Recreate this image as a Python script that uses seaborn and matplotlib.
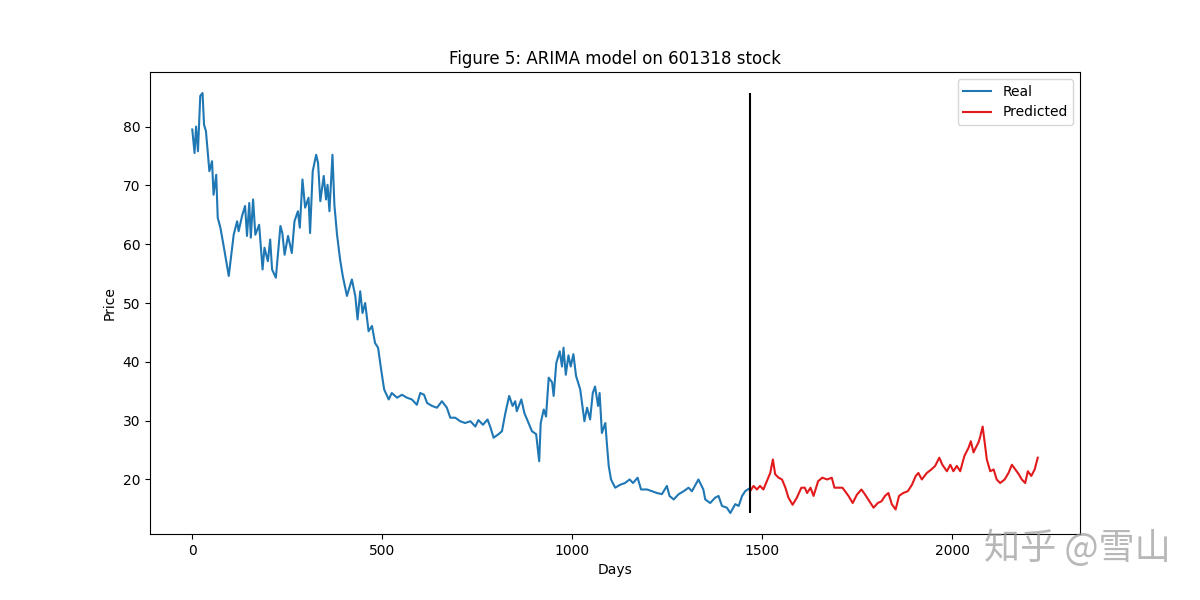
import matplotlib
matplotlib.use("Agg")
import matplotlib.pyplot as plt
import seaborn as sns
import numpy as np

# Real (training) series: day index, price
real_days = [0, 6, 10, 15, 21, 27, 31, 36, 45, 52, 56, 63, 67, 74, 82, 96, 109, 118, 122, 131,
             139, 144, 150, 154, 160, 166, 176, 185, 190, 199, 205, 210, 220, 232, 237, 243, 252,
             262, 269, 278, 283, 290, 297, 306, 310, 317, 326, 331, 337, 346, 352, 356, 361, 369,
             374, 381, 389, 396, 407, 420, 429, 435, 442, 448, 455, 464, 473, 481, 489, 497, 505,
             517, 525, 539, 552, 565, 578, 591, 600, 610, 618, 631, 644, 657, 670, 679, 692, 705,
             718, 732, 745, 753, 765, 777, 785, 793, 806, 815, 824, 834, 843, 850, 854, 866, 874,
             885, 894, 905, 913, 917, 925, 931, 938, 947, 951, 958, 967, 973, 977, 983, 990, 996,
             1003, 1010, 1021, 1032, 1039, 1047, 1054, 1060, 1068, 1072, 1078, 1087, 1091, 1096,
             1102, 1113, 1126, 1139, 1151, 1160, 1172, 1181, 1197, 1210, 1223, 1236, 1249, 1256,
             1267, 1280, 1293, 1306, 1315, 1332, 1345, 1350, 1363, 1376, 1385, 1394, 1407, 1416,
             1429, 1438, 1447, 1455, 1464, 1468]
real_price = [79.5, 75.5, 80.0, 75.8, 85.2, 85.7, 80.3, 79.2, 72.4, 74.1, 68.4, 71.8, 64.5, 62.8,
              59.9, 54.6, 61.6, 63.9, 62.2, 64.8, 66.5, 61.4, 67.0, 61.1, 67.6, 61.6, 63.3, 55.7,
              59.4, 57.1, 60.8, 55.7, 54.3, 63.1, 61.9, 58.2, 61.4, 58.5, 63.9, 65.6, 62.8, 71.0,
              66.2, 67.9, 61.9, 72.4, 75.2, 73.8, 67.3, 71.6, 67.6, 70.1, 65.6, 75.2, 66.7, 61.6,
              57.4, 54.6, 51.2, 54.0, 51.2, 47.2, 52.0, 48.3, 50.0, 45.2, 46.1, 43.2, 42.4, 38.7,
              35.3, 33.6, 34.7, 33.9, 34.4, 33.9, 33.6, 32.7, 34.7, 34.4, 33.0, 32.5, 32.2, 33.3,
              32.2, 30.5, 30.5, 29.9, 29.6, 29.9, 29.0, 30.1, 29.3, 30.2, 28.8, 27.1, 27.7, 28.2,
              31.3, 34.2, 32.5, 33.3, 31.6, 33.6, 31.3, 29.6, 28.2, 27.7, 23.1, 29.6, 31.9, 30.7,
              37.3, 36.5, 34.2, 39.8, 41.8, 39.2, 42.4, 37.8, 41.1, 39.2, 41.3, 37.6, 35.3, 29.9,
              32.2, 30.2, 34.7, 35.8, 32.5, 34.7, 27.9, 29.6, 26.2, 22.3, 20.0, 18.6, 19.1, 19.4,
              20.0, 19.4, 20.3, 18.3, 18.3, 18.0, 17.7, 17.5, 18.9, 17.2, 16.6, 17.5, 18.0, 18.6,
              18.0, 20.0, 18.3, 16.6, 16.0, 16.9, 17.2, 15.5, 15.2, 14.3, 15.8, 15.5, 17.2, 18.0,
              18.4, 18.2]

# Predicted (test) series
pred_days = [1468, 1477, 1486, 1494, 1503, 1512, 1521, 1528, 1534, 1543, 1552, 1561, 1569, 1580,
             1591, 1603, 1612, 1618, 1627, 1635, 1647, 1658, 1671, 1683, 1690, 1701, 1711, 1718,
             1727, 1738, 1749, 1761, 1771, 1782, 1793, 1804, 1814, 1823, 1832, 1841, 1851, 1860,
             1871, 1883, 1894, 1904, 1911, 1920, 1933, 1945, 1955, 1966, 1974, 1986, 1995, 2003,
             2012, 2021, 2032, 2043, 2049, 2056, 2062, 2069, 2073, 2080, 2085, 2091, 2100, 2109,
             2117, 2126, 2138, 2148, 2157, 2166, 2175, 2183, 2192, 2199, 2208, 2217, 2225]
pred_price = [18.0, 18.9, 18.3, 18.9, 18.3, 19.7, 21.1, 23.4, 20.9, 20.3, 20.0, 18.6, 16.9, 15.7,
              16.9, 18.6, 18.6, 17.7, 18.6, 17.2, 19.7, 20.3, 20.0, 20.3, 18.6, 18.6, 18.6, 18.0,
              17.2, 16.0, 17.4, 18.3, 17.4, 16.3, 15.2, 16.0, 16.3, 17.2, 17.7, 15.8, 14.9, 17.2,
              17.7, 18.0, 19.1, 20.6, 21.1, 20.0, 21.1, 21.7, 22.3, 23.7, 22.5, 21.4, 22.5, 21.4,
              22.3, 21.4, 24.0, 25.4, 26.5, 24.6, 25.4, 26.3, 27.1, 29.0, 26.5, 23.4, 21.4, 21.7,
              20.0, 19.4, 20.0, 21.1, 22.5, 21.7, 20.9, 20.0, 19.4, 21.4, 20.6, 21.7, 23.7]

split_day = 1468

fig, ax = plt.subplots(figsize=(12, 6), dpi=100)
sns.lineplot(x=real_days, y=real_price, ax=ax, color="#1f77b4", label="Real", linewidth=1.5)
sns.lineplot(x=pred_days, y=pred_price, ax=ax, color="#e31a1c", label="Predicted", linewidth=1.5)
ax.vlines(split_day, min(real_price), max(real_price), colors="black", linewidth=1.5)

ax.set_title("Figure 5: ARIMA model on 601318 stock")
ax.set_xlabel("Days")
ax.set_ylabel("Price")
ax.set_xticks([0, 500, 1000, 1500, 2000])
ax.set_yticks([20, 30, 40, 50, 60, 70, 80])
ax.legend(loc="upper right")

fig.text(0.82, 0.087, "知乎 @雪山", fontsize=26, color="#9a9a9a", alpha=0.7,
         family=["Noto Sans CJK SC", "DejaVu Sans"], va="center", ha="left")

fig.savefig("out.png", dpi=100)
